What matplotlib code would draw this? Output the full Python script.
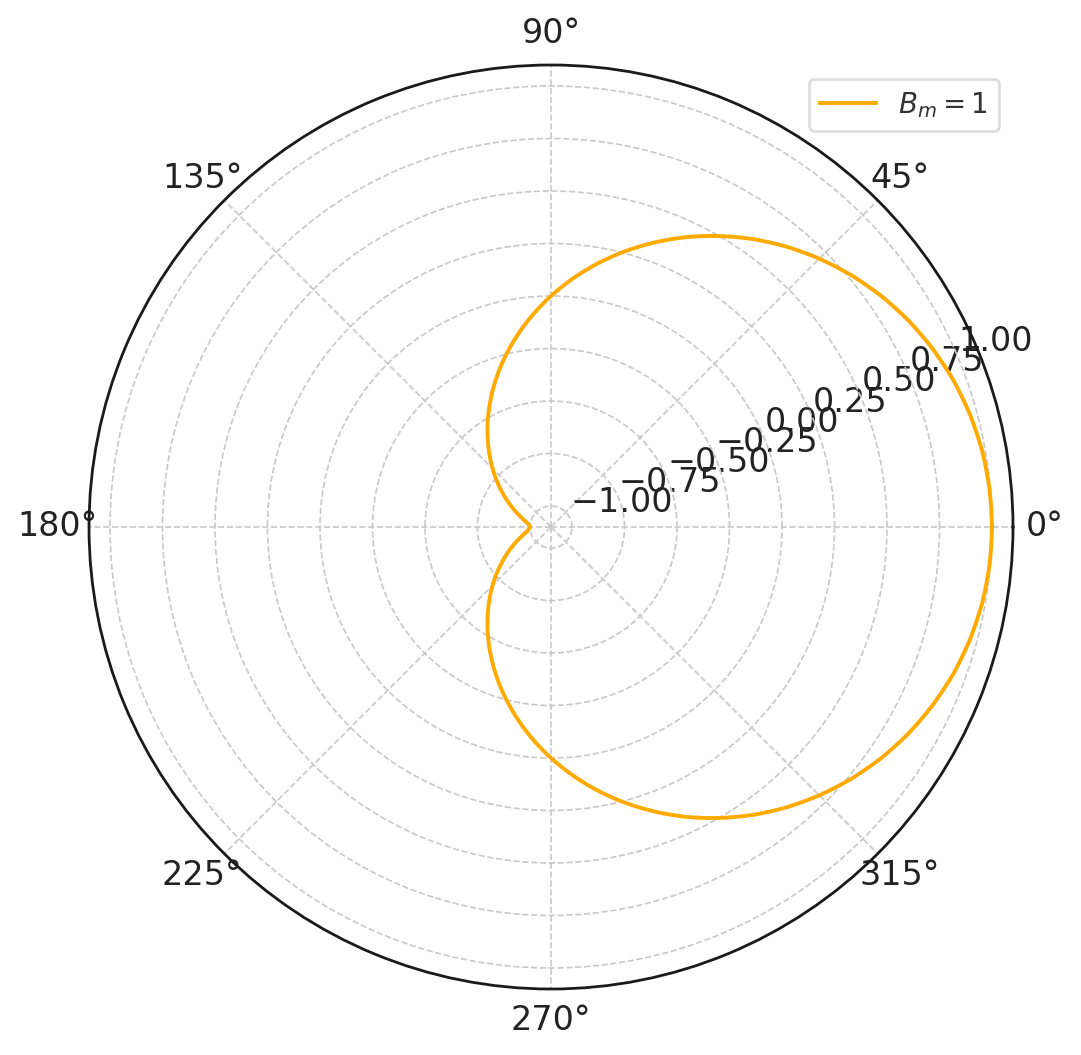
import numpy as np
import matplotlib.pyplot as plt

# angle in degrees (every 5 deg), radius
theta_deg = list(range(0, 365, 5))
r_vals = [1.000, 0.996, 0.985, 0.966, 0.940, 0.906, 0.866, 0.819, 0.766, 0.707, 0.643,
          0.574, 0.500, 0.423, 0.342, 0.259, 0.174, 0.087, 0.000, -0.087, -0.174, -0.259,
          -0.342, -0.423, -0.500, -0.574, -0.643, -0.707, -0.766, -0.819, -0.866, -0.906,
          -0.940, -0.966, -0.985, -0.996, -1.000, -0.996, -0.985, -0.966, -0.940, -0.906,
          -0.866, -0.819, -0.766, -0.707, -0.643, -0.574, -0.500, -0.423, -0.342, -0.259,
          -0.174, -0.087, 0.000, 0.087, 0.174, 0.259, 0.342, 0.423, 0.500, 0.574, 0.643,
          0.707, 0.766, 0.819, 0.866, 0.906, 0.940, 0.966, 0.985, 0.996, 1.000]
label = r'$B_m = 1$'

fig = plt.figure(figsize=(1081 / 200, 1055 / 200), dpi=200)
ax = fig.add_axes([89 / 1081, 66 / 1055, 924 / 1081, 924 / 1055], projection='polar')

line, = ax.plot(np.deg2rad(theta_deg), r_vals, color='#FFAA00', lw=1.4, label=label)
line.get_path()._interpolation_steps = 20  # draw segments as arcs in polar space

ax.set_rlim(-1.1, 1.1)
ax.set_rticks([-1.0, -0.75, -0.5, -0.25, 0.0, 0.25, 0.5, 0.75, 1.0])
ax.set_rlabel_position(22.5)
ax.tick_params(labelsize=12, colors='#222222')
ax.tick_params(axis='x', pad=0.8)
ax.grid(True, ls='--', lw=0.6, color='#c8c8c8')
ax.spines['polar'].set_color('#1a1a1a')
ax.spines['polar'].set_linewidth(1.0)

leg = ax.legend(loc='upper right', fontsize=10, frameon=True, fancybox=True,
                edgecolor='#d5d5d5', borderaxespad=0.5)
for t in leg.get_texts():
    t.set_color('#333333')

fig.savefig('out.png', dpi=200)
